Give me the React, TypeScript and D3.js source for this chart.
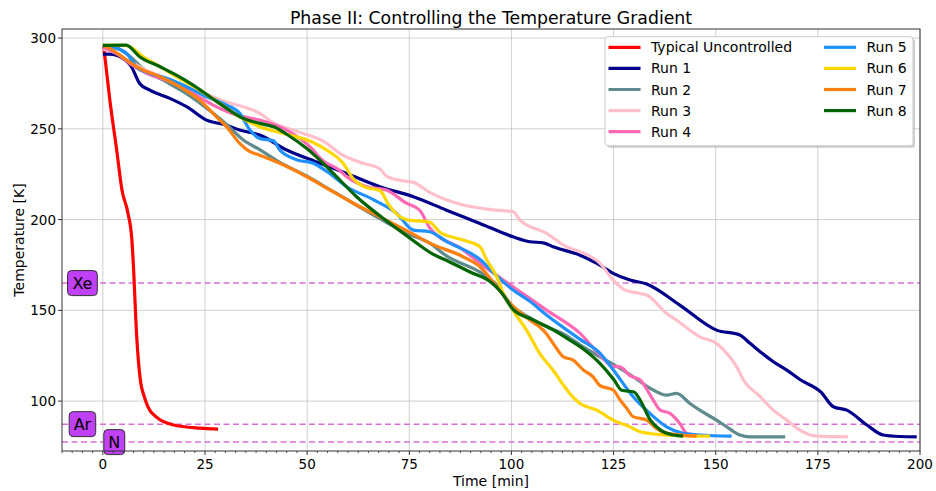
import React from 'react';
import * as d3 from 'd3';

const W = 936;
const H = 491;
const FRAME = { left: 62, right: 920, top: 29, bottom: 451 };
const FONT = '"DejaVu Sans", Verdana, sans-serif';

const titleText = 'Phase II: Controlling the Temperature Gradient';
const xLabel = 'Time [min]';
const yLabel = 'Temperature [K]';
const xDomain: [number, number] = [-10, 200];
const yDomain: [number, number] = [72.5, 305];
const xTicks = [0, 25, 50, 75, 100, 125, 150, 175, 200];
const yTicks = [100, 150, 200, 250, 300];

const seriesNames = ['Typical Uncontrolled', 'Run 1', 'Run 2', 'Run 3', 'Run 4', 'Run 5', 'Run 6', 'Run 7', 'Run 8'];
const seriesColors = ['#ff0000', '#00008b', '#5f8b8c', '#ffc0cb', '#ff69b4', '#1e90ff', '#ffd700', '#ff800e', '#006400'];

type P = [number, number];

const typical: P[] = [[0.2,295.5],[1.7,266],[3.4,238],[4.7,216],[6.1,204],[7.1,189],[7.4,178],[8.3,135],[9.1,113],[10.2,102],[11,97],[13.2,91],[17.1,87],[23.7,85.1],[28.2,84.6]];

const run1: P[] = [[0,291.2],[1.7,291.2],[4,290],[7,284.2],[9,275],[11.5,271.3],[16.4,266.8],[20.5,262.2],[25.4,254.8],[30.3,252],[33.5,249.3],[38.4,246.6],[45,238.3],[52,232],[59.7,225.4],[67.8,218.1],[76,212.6],[84.1,205.2],[92.3,197.9],[100.4,190.5],[104.5,187.8],[107.8,187.2],[110.2,185],[116.8,180.4],[120.9,175.9],[124.9,170.4],[129,166.7],[133.1,164.5],[141.2,152.9],[150.2,139.1],[155.9,136.4],[158.4,131.8],[164.1,121.7],[167.4,117.1],[170.8,111.6],[175.7,105.1],[178.8,96.9],[182.1,95.0],[187,86.8],[191,81.3],[195,80.5],[199.2,80.3]];

const run2: P[] = [[0,296],[3,295],[6,291],[10,283],[15,276.5],[20,270],[25,262],[30,253],[34.3,244],[38.4,238.5],[43.3,231.5],[49.9,224],[55.6,216.5],[61.3,209],[67.8,200.5],[74.3,192.5],[80,187],[84.1,180],[92.3,171],[96,165],[100.4,152],[104.5,146],[108.6,141],[112.7,137],[116.8,131],[121.7,124.4],[126.6,118],[129.8,113.4],[134.7,106.1],[138,103.3],[140.4,104.2],[143.7,98.7],[146.1,95],[150.2,89.5],[152.7,85.8],[155.9,81.3],[158.4,80.3],[167,80.3]];

const run3: P[] = [[0,294],[3,292],[6,288],[10,283],[15,278],[20,273],[23.7,270.4],[30,265],[38.4,258.5],[42,253],[46.5,249.3],[54.8,242],[58,236.5],[63.7,231],[67.8,228],[69.4,224],[73,221.5],[76,220.5],[80,215],[88.2,208],[95,205.5],[100.4,204.3],[102.1,199.7],[108.6,192.4],[113.5,185],[116.8,182.3],[121.7,175.9],[124.9,166.7],[128,161],[131.5,159.3],[133.1,158.4],[138,148.3],[140.4,144.6],[146.1,135.4],[150.2,131.8],[152.7,126.3],[155.1,119],[156.8,111.6],[160.9,102.4],[164.1,95],[167.4,89.5],[170.6,84],[174.7,80.7],[182.4,80.3]];

const run4: P[] = [[0,295],[3.3,291.6],[6.6,286.1],[10.7,280.6],[16.4,276],[22.1,269.5],[27,263.1],[32.7,257.6],[38.4,254.8],[45,249.3],[51.5,238.3],[53.1,234],[58,227],[59.7,223.6],[64.6,218.1],[69.4,216.3],[74.3,209],[77.6,205],[80,195.5],[88.2,183.2],[92.3,175.9],[100.4,163],[108.6,150.1],[116.8,137.3],[121.7,125.3],[124.9,119],[126.6,118.9],[129,114],[131.5,111.6],[134.7,100.6],[136.4,95],[138.8,93.2],[141.2,87.7],[142.9,82.2],[144,81.5]];

const run5: P[] = [[0,295.5],[3,294.5],[5.8,291.6],[8.2,284.2],[11.5,280.6],[15.6,277.8],[20.5,273.2],[25.4,267.7],[30.3,263.1],[33.5,258.5],[36,249.3],[38.4,244.7],[41.7,243.5],[43.3,238.3],[47.4,233],[51.5,231],[54.8,226.5],[59.7,218.1],[66.2,211],[71.9,203.4],[76,194.2],[80,193.3],[84.1,188],[92.3,178],[96.4,169],[100.4,161.2],[104.5,155],[108.6,147.4],[116.8,134],[121.7,126.3],[125,117],[129.8,102.4],[133.9,93.2],[138,85.8],[142,82.2],[146.1,81.3],[153.9,80.7]];

const run6: P[] = [[0,296],[3,296],[5,296],[6.6,295.2],[9.9,289.7],[14,284.2],[18,278.7],[23.7,271.3],[28.6,264],[33.5,256.6],[38.4,251.1],[45,247],[51.5,242.5],[54.8,238.3],[58.8,231],[61.3,222.5],[64,218],[67.8,216],[70,208],[71.9,203],[74.3,200],[80,198.5],[82.5,193],[88.2,188.7],[92.3,185],[93.9,178],[96.4,168.5],[98,159.3],[100.4,150],[103.7,139.1],[107,126],[110.2,117],[113,108],[115.1,102],[116.8,98.7],[120.9,95],[124.9,89.5],[129,85.8],[131.5,83.1],[138,81.3],[148.6,80.7]];

const run7: P[] = [[0,296],[1.7,294.3],[5.8,287.9],[9,283.3],[14,278.7],[18.8,273.2],[23.7,265.8],[27.8,256.6],[30.3,251.1],[33.5,242],[36,237.4],[38.4,235.5],[43.3,231],[49.9,223.6],[55.6,216.3],[61.3,209],[67.8,201.5],[74.3,194],[80,187],[88.2,179.5],[92.3,174],[96.4,163],[99.6,154],[103.7,146],[108.6,137],[110.2,131.8],[112.7,124.4],[115.1,122.6],[117.6,117.1],[120,113.4],[121.7,108.5],[124.9,106.1],[126.6,100.6],[128.2,96],[129.8,91.4],[133.1,89.5],[135.5,84.9],[138,82.2],[145.3,80.7]];

const run8: P[] = [[0,296],[5.7,296.1],[9,289.7],[14,284.2],[18,279.6],[22.1,274.1],[26.2,267.7],[30.3,261.3],[34.3,255.8],[38.4,253],[42,251],[45,247],[50,239],[55.6,227.3],[62.1,212.6],[69,200],[75,190],[80,182],[85,176.5],[90,171],[95,165.5],[97.5,160],[100.4,150.5],[105,145],[110,139.5],[114,134],[118,128],[122,120],[125,112],[127,106],[130,105],[131.5,100.6],[134,89.5],[136.5,84],[139.7,81.3],[142,80.7]];

const allSeries: P[][] = [typical, run1, run2, run3, run4, run5, run6, run7, run8];

const refValues = [165, 87.3, 77.4];
const refLabels = ['Xe', 'Ar', 'N'];
const refLabelTimes = [-5, -5, 2.8];

const charW: Record<string, number> = { X: 0.685, e: 0.615, A: 0.684, r: 0.411, N: 0.748 };
const textWidth = (s: string, size: number) => s.split('').reduce((a, c) => a + (charW[c] ?? 0.6) * size, 0);

export default function App() {
  const x = d3.scaleLinear().domain(xDomain).range([FRAME.left, FRAME.right]);
  const y = d3.scaleLinear().domain(yDomain).range([FRAME.bottom, FRAME.top]);
  const line = d3.line<P>().x(d => x(d[0])).y(d => y(d[1])).curve(d3.curveMonotoneX);
  const minorTicks = d3.range(-10, 200.01, 2.5).filter(v => Math.abs(v % 25) > 1e-6);

  const legendX = 605, legendY = 36.7, legendW = 308, legendH = 109;
  const rowH = 21.1;
  const legendCols = [
    { hx: 608.5, tx: 651, items: [0, 1, 2, 3, 4] },
    { hx: 824, tx: 866.5, items: [5, 6, 7, 8] },
  ];

  return (
    <svg width={W} height={H} style={{ position: 'absolute', left: 0, top: 0, background: '#fff' }} fontFamily={FONT}>
      <defs>
        <clipPath id="plotclip">
          <rect x={FRAME.left} y={FRAME.top} width={FRAME.right - FRAME.left} height={FRAME.bottom - FRAME.top} />
        </clipPath>
      </defs>
      <rect x={0} y={0} width={W} height={H} fill="#fff" />
      {xTicks.map(t => (
        <line key={'gx' + t} x1={x(t)} x2={x(t)} y1={FRAME.top} y2={FRAME.bottom} stroke="#b0b0b0" strokeOpacity={0.6} strokeWidth={1} />
      ))}
      {yTicks.map(t => (
        <line key={'gy' + t} x1={FRAME.left} x2={FRAME.right} y1={y(t)} y2={y(t)} stroke="#b0b0b0" strokeOpacity={0.6} strokeWidth={1} />
      ))}
      {refValues.map((v, i) => (
        <line key={'ref' + i} x1={FRAME.left} x2={FRAME.right} y1={y(v)} y2={y(v)} stroke="#da70d6" strokeWidth={1.5} strokeDasharray="6,3.5" />
      ))}
      <g clipPath="url(#plotclip)">
        {allSeries.map((s, i) => (
          <path key={'s' + i} d={line(s) ?? ''} fill="none" stroke={seriesColors[i]} strokeWidth={3.2} strokeLinejoin="round" strokeLinecap="butt" />
        ))}
      </g>
      {refLabels.map((lab, i) => {
        const cx = x(refLabelTimes[i]);
        const cy = y(refValues[i]);
        const w = textWidth(lab, 16) + 9;
        const h = 25;
        return (
          <g key={'rl' + i}>
            <rect x={cx - w / 2} y={cy - h / 2} width={w} height={h} rx={4} ry={4} fill="#bf40f5" stroke="#333" strokeWidth={1} />
            <text x={cx} y={cy + 6} textAnchor="middle" fontSize={16} fill="#000">{lab}</text>
          </g>
        );
      })}
      <rect x={FRAME.left} y={FRAME.top} width={FRAME.right - FRAME.left} height={FRAME.bottom - FRAME.top} fill="none" stroke="#333" strokeWidth={1} />
      {xTicks.map(t => (
        <g key={'xt' + t}>
          <line x1={x(t)} x2={x(t)} y1={FRAME.bottom} y2={FRAME.bottom + 4} stroke="#333" strokeWidth={1} />
          <text x={x(t)} y={468.5} textAnchor="middle" fontSize={13.5} fill="#000">{t}</text>
        </g>
      ))}
      {minorTicks.map(t => (
        <line key={'mt' + t} x1={x(t)} x2={x(t)} y1={FRAME.bottom} y2={FRAME.bottom + 2.2} stroke="#333" strokeWidth={0.8} />
      ))}
      {yTicks.map(t => (
        <g key={'yt' + t}>
          <line x1={FRAME.left - 4} x2={FRAME.left} y1={y(t)} y2={y(t)} stroke="#333" strokeWidth={1} />
          <text x={FRAME.left - 6} y={y(t) + 5} textAnchor="end" fontSize={13.5} fill="#000">{t}</text>
        </g>
      ))}
      <text x={(FRAME.left + FRAME.right) / 2} y={24} textAnchor="middle" fontSize={17.3} fill="#000">{titleText}</text>
      <text x={(FRAME.left + FRAME.right) / 2} y={486} textAnchor="middle" fontSize={14} fill="#000">{xLabel}</text>
      <text transform={`translate(24,${(FRAME.top + FRAME.bottom) / 2}) rotate(-90)`} textAnchor="middle" fontSize={14} fill="#000">{yLabel}</text>
      <rect x={legendX + 2} y={legendY + 2} width={legendW} height={legendH} rx={3} fill="#999" fillOpacity={0.5} />
      <rect x={legendX} y={legendY} width={legendW} height={legendH} rx={3} fill="#fff" stroke="#ccc" strokeWidth={1} />
      {legendCols.map((col, ci) => col.items.map((si, ri) => {
        const yy = legendY + 10.6 + ri * rowH;
        return (
          <g key={'lg' + ci + '-' + ri}>
            <line x1={col.hx} x2={col.hx + 32} y1={yy} y2={yy} stroke={seriesColors[si]} strokeWidth={3.2} />
            <text x={col.tx} y={yy + 5} fontSize={14} fill="#000">{seriesNames[si]}</text>
          </g>
        );
      }))}
    </svg>
  );
}
